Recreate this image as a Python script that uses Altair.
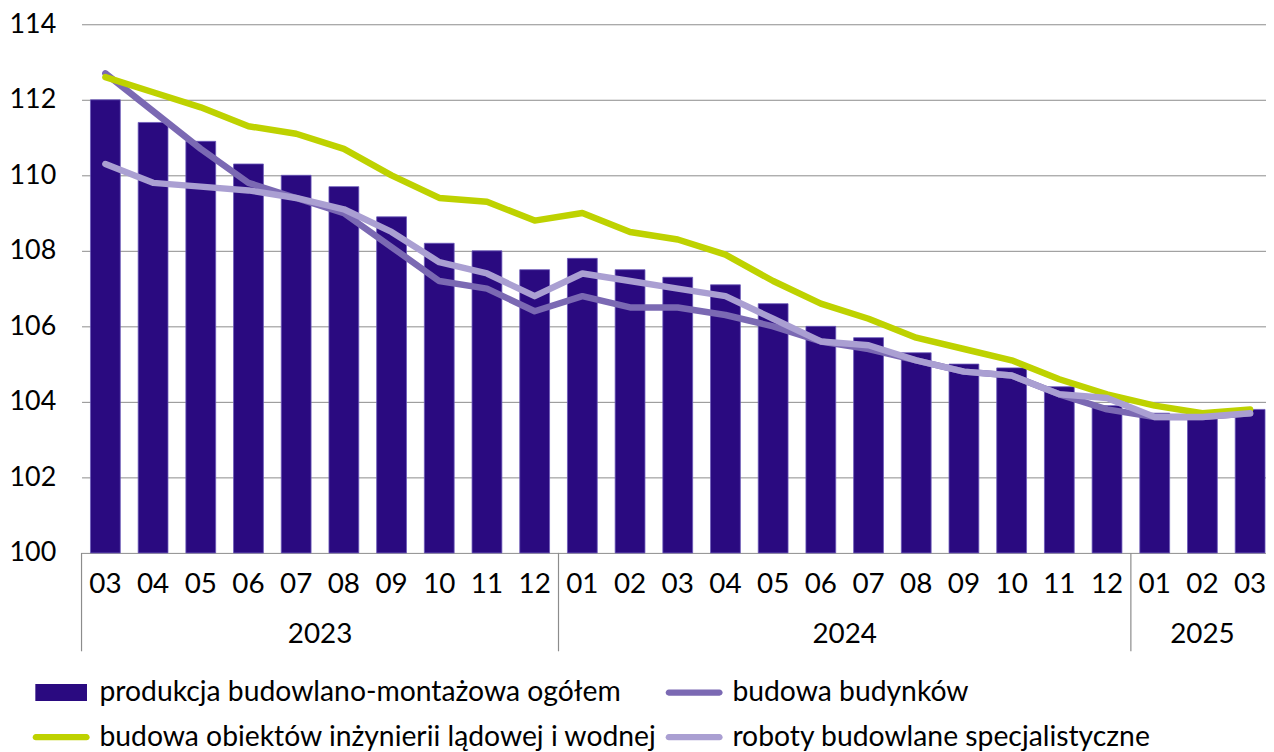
import altair as alt
import pandas as pd

FONT = "Lato"

months = ["03", "04", "05", "06", "07", "08", "09", "10", "11", "12",
          "01", "02", "03", "04", "05", "06", "07", "08", "09", "10", "11", "12",
          "01", "02", "03"]
years = ["2023"] * 10 + ["2024"] * 12 + ["2025"] * 3

ogolem = [112.0, 111.4, 110.9, 110.3, 110.0, 109.7, 108.9, 108.2, 108.0, 107.5,
          107.8, 107.5, 107.3, 107.1, 106.6, 106.0, 105.7, 105.3, 105.0, 104.9, 104.4, 103.9,
          103.7, 103.7, 103.8]
budynki = [112.7, 111.7, 110.7, 109.8, 109.4, 109.0, 108.1, 107.2, 107.0, 106.4,
           106.8, 106.5, 106.5, 106.3, 106.0, 105.6, 105.4, 105.1, 104.8, 104.7, 104.2, 103.8,
           103.6, 103.6, 103.7]
inzynieria = [112.6, 112.2, 111.8, 111.3, 111.1, 110.7, 110.0, 109.4, 109.3, 108.8,
              109.0, 108.5, 108.3, 107.9, 107.2, 106.6, 106.2, 105.7, 105.4, 105.1, 104.6, 104.2,
              103.9, 103.7, 103.8]
roboty = [110.3, 109.8, 109.7, 109.6, 109.4, 109.1, 108.5, 107.7, 107.4, 106.8,
          107.4, 107.2, 107.0, 106.8, 106.2, 105.6, 105.5, 105.1, 104.8, 104.7, 104.2, 104.1,
          103.6, 103.6, 103.7]

n_ogolem = "produkcja budowlano-montażowa ogółem"
n_budynki = "budowa budynków"
n_inz = "budowa obiektów inżynierii lądowej i wodnej"
n_roboty = "roboty budowlane specjalistyczne"

# legend is filled column by column: col 1 = ogółem, inżynierii; col 2 = budynków, roboty
legend_order = [n_ogolem, n_inz, n_budynki, n_roboty]
legend_colors = ["#2a0a80", "#bed200", "#7b69b3", "#aa9fd2"]

idx = list(range(len(months)))
df = pd.DataFrame({"idx": idx, "month": months, "year": years, "ogolem": ogolem})
df["series"] = n_ogolem

lines_df = pd.concat([
    pd.DataFrame({"idx": idx, "value": budynki, "series": n_budynki, "order": 1}),
    pd.DataFrame({"idx": idx, "value": inzynieria, "series": n_inz, "order": 2}),
    pd.DataFrame({"idx": idx, "value": roboty, "series": n_roboty, "order": 3}),
])

grp = df.groupby("year")["idx"]
year_df = pd.DataFrame({"year": grp.mean().index,
                        "center": grp.mean().values,
                        "sep": grp.min().values - 0.5})

xscale = alt.Scale(domain=[-0.5, 24.333], nice=False, zero=False)
yscale = alt.Scale(domain=[100, 114], nice=False, zero=False)
color_scale = alt.Scale(domain=legend_order, range=legend_colors)

bar_shape = "M-0.912,-0.298H0.912V0.298H-0.912Z"
line_shape = ("M-0.895,-0.11H0.895A0.11,0.11 0 0 1 0.895,0.11"
              "H-0.895A0.11,0.11 0 0 1 -0.895,-0.11Z")

shape_expr = f"datum.value === '{n_ogolem}' ? '{bar_shape}' : '{line_shape}'"
fill_expr = "scale('color', datum.value)"

legend = alt.Legend(
    orient="none", legendX=-49, legendY=644, columns=2, title=None,
    symbolSize=3249, symbolType={"expr": shape_expr}, symbolStrokeWidth=0,
    symbolFillColor={"expr": fill_expr}, symbolStrokeColor="transparent", symbolOpacity=1,
    labelFont=FONT, labelFontSize=28.5, labelColor="black", labelOffset=10,
    labelLimit=0, columnPadding=7, rowPadding=2,
)

bars = alt.Chart(df).transform_calculate(
    x1="datum.idx - 0.3125", x2="datum.idx + 0.3125"
).mark_bar(stroke="#6a58b8", strokeWidth=0.8).encode(
    x=alt.X("x1:Q", scale=xscale, axis=None),
    x2="x2:Q",
    y=alt.Y("ogolem:Q", scale=yscale,
            axis=alt.Axis(values=[100, 102, 104, 106, 108, 110, 112, 114], title=None,
                          grid=True, gridColor="#8c8c8c", gridWidth=1, domain=False,
                          ticks=False, labelFont=FONT, labelFontSize=27, labelColor="black",
                          labelPadding=26)),
    y2=alt.datum(100),
    color=alt.Color("series:N", scale=color_scale, legend=legend),
)

lines = alt.Chart(lines_df).mark_line(strokeWidth=6.5, strokeCap="round", strokeJoin="round").encode(
    x=alt.X("idx:Q", scale=xscale, axis=None),
    y=alt.Y("value:Q", scale=yscale),
    color=alt.Color("series:N", scale=color_scale, legend=legend),
    order="idx:Q",
    detail="order:O",
)

month_text = alt.Chart(df).mark_text(font=FONT, fontSize=28, color="black", baseline="middle").encode(
    x=alt.X("idx:Q", scale=xscale),
    y=alt.value(564),
    text="month:N",
)

year_text = alt.Chart(year_df).mark_text(font=FONT, fontSize=28, color="black", baseline="middle").encode(
    x=alt.X("center:Q", scale=xscale),
    y=alt.value(615),
    text="year:N",
)

seps = alt.Chart(year_df).mark_rule(color="#8c8c8c", strokeWidth=1.2).encode(
    x=alt.X("sep:Q", scale=xscale),
    y=alt.value(532),
    y2=alt.value(631),
)

chart = alt.layer(bars, lines, month_text, year_text, seps).properties(
    width=1192, height=532,
    padding={"left": 74, "top": 14, "right": 0, "bottom": 198},
    autosize=alt.AutoSizeParams(type="none"),
).configure_view(stroke=None)

chart.save("out.html", embed_options={"renderer": "svg", "actions": False})
